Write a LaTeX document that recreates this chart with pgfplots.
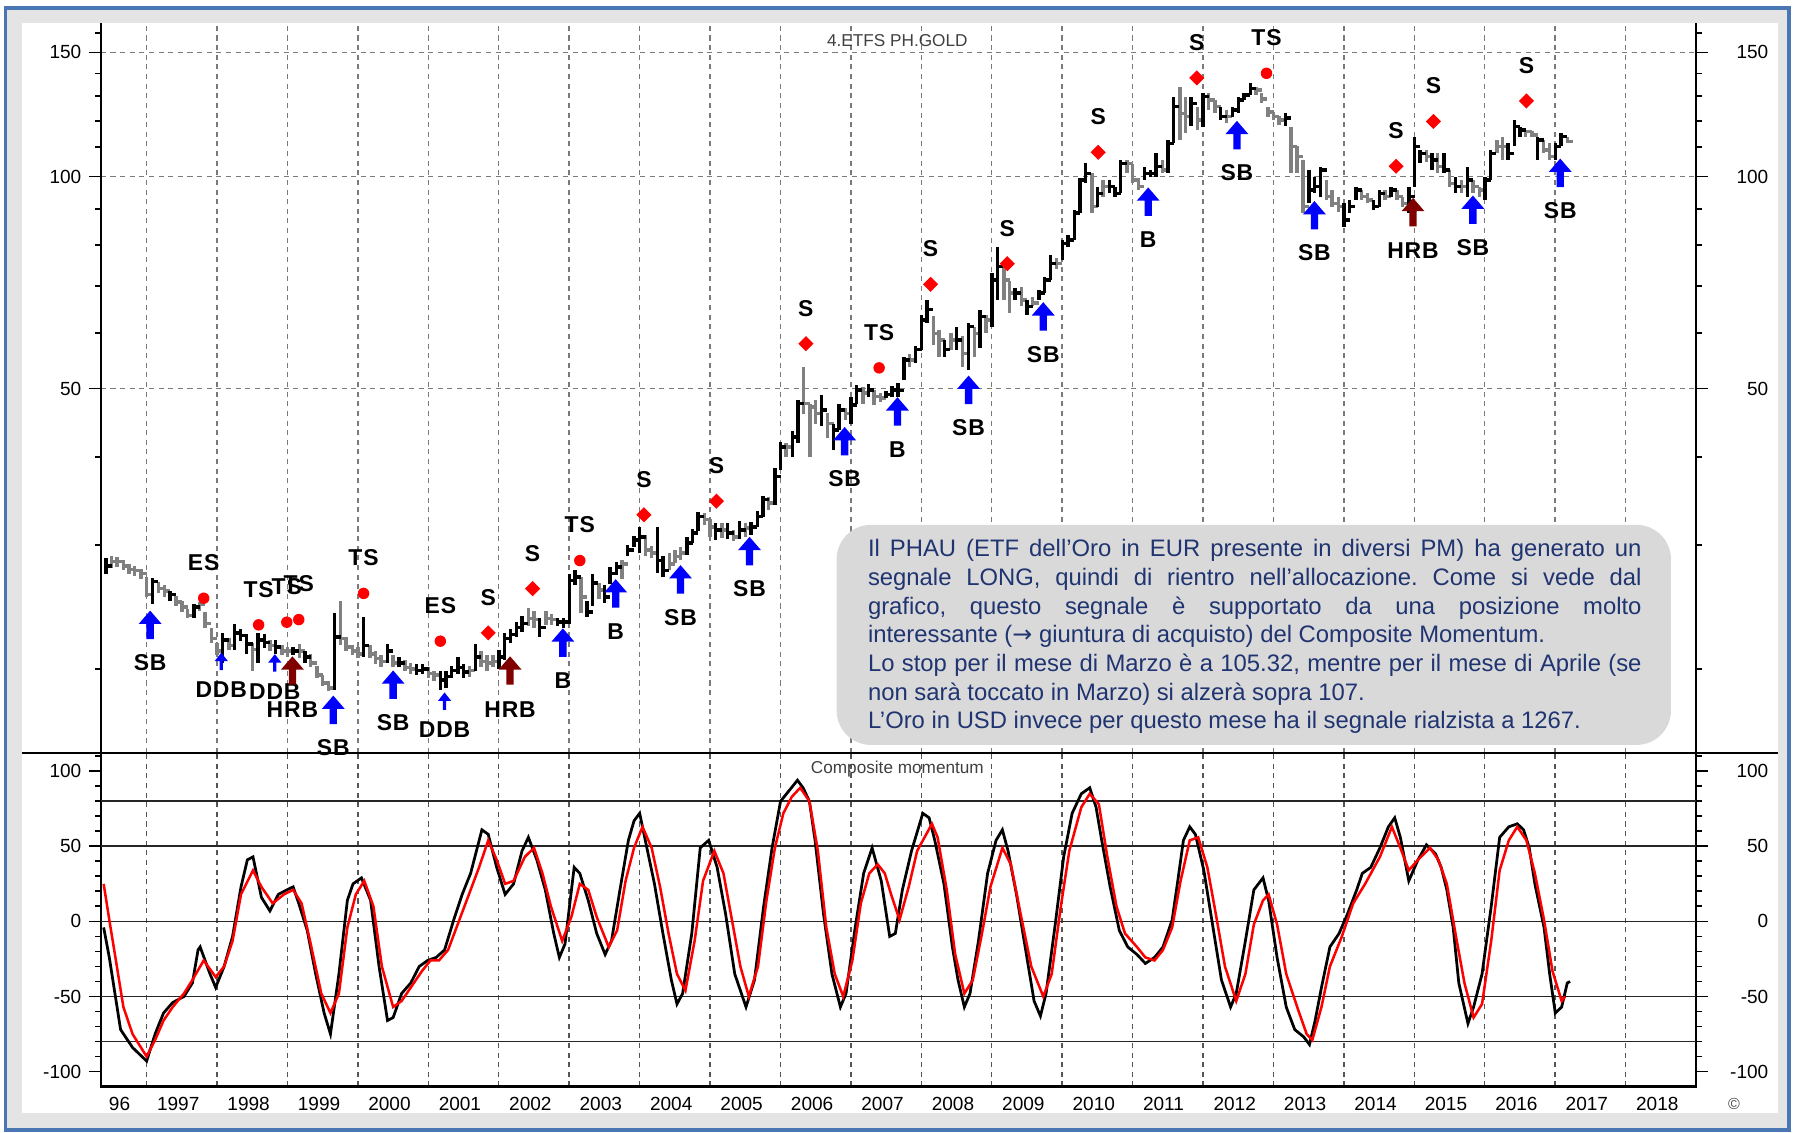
\documentclass[border=0pt]{standalone}
\usepackage{pgfplots}
\pgfplotsset{compat=1.18}
\usepackage{pgfplotstable}
\usepackage{fontspec}
\setmainfont{Liberation Sans}
\newfontfamily\symfont{DejaVu Sans}
\newfontfamily\sigfam[LetterSpace=4]{Liberation Sans}

\definecolor{navy}{HTML}{1F3470}
\definecolor{boxgray}{HTML}{D9D9D9}
\definecolor{framegray}{HTML}{E4E4E4}
\definecolor{frameblue}{HTML}{4A76B4}
\definecolor{bargray}{HTML}{808080}
\definecolor{gridgray}{HTML}{7A7A7A}
\definecolor{sigred}{HTML}{FF0000}
\definecolor{sigblue}{HTML}{0000FF}
\definecolor{hrbred}{HTML}{800000}

\pgfdeclareplotmark{bigup}{%
  \pgfpathmoveto{\pgfqpoint{0pt}{6.2pt}}%
  \pgfpathlineto{\pgfqpoint{5pt}{0.4pt}}%
  \pgfpathlineto{\pgfqpoint{1.6pt}{0.4pt}}%
  \pgfpathlineto{\pgfqpoint{1.6pt}{-6.2pt}}%
  \pgfpathlineto{\pgfqpoint{-1.6pt}{-6.2pt}}%
  \pgfpathlineto{\pgfqpoint{-1.6pt}{0.4pt}}%
  \pgfpathlineto{\pgfqpoint{-5pt}{0.4pt}}%
  \pgfpathclose\pgfusepathqfill}
\pgfdeclareplotmark{smallup}{%
  \pgfpathmoveto{\pgfqpoint{0pt}{3.8pt}}%
  \pgfpathlineto{\pgfqpoint{2.9pt}{0.1pt}}%
  \pgfpathlineto{\pgfqpoint{0.7pt}{0.1pt}}%
  \pgfpathlineto{\pgfqpoint{0.7pt}{-3.8pt}}%
  \pgfpathlineto{\pgfqpoint{-0.7pt}{-3.8pt}}%
  \pgfpathlineto{\pgfqpoint{-0.7pt}{0.1pt}}%
  \pgfpathlineto{\pgfqpoint{-2.9pt}{0.1pt}}%
  \pgfpathclose\pgfusepathqfill}
\pgfdeclareplotmark{rdiam}{%
  \pgfpathmoveto{\pgfqpoint{0pt}{3.3pt}}%
  \pgfpathlineto{\pgfqpoint{3.3pt}{0pt}}%
  \pgfpathlineto{\pgfqpoint{0pt}{-3.3pt}}%
  \pgfpathlineto{\pgfqpoint{-3.3pt}{0pt}}%
  \pgfpathclose\pgfusepathqfill}
\pgfdeclareplotmark{rdot}{%
  \pgfpathcircle{\pgfpointorigin}{2.5pt}\pgfusepathqfill}

\pgfplotsset{
  sig/.style={only marks, nodes near coords, point meta=explicit symbolic,
    every node near coord/.append style={font=\sigfam\bfseries\fontsize{10}{12}\selectfont,
      text=black, anchor=center, yshift=#1, inner sep=0pt}},
  ohlc/.style={mark=none, draw opacity=0,
    error bars/.cd, x dir=plus, x fixed=0.0833, y dir=both, y explicit, error mark=none,
    error bar style={draw=#1, draw opacity=1, line width=1.5pt, solid}},
}

\pgfplotstableread{
t c lo hi g
1996.42 28.0 27.3 28.7 1
1996.50 28.4 27.8 28.9 0
1996.58 28.4 27.9 28.8 0
1996.67 28.0 27.6 28.6 0
1996.75 27.7 27.3 28.2 0
1996.83 27.6 27.1 28.0 0
1996.92 27.3 26.8 27.7 0
1997.00 25.5 25.3 27.0 0
1997.08 26.6 24.7 26.9 1
1997.17 26.0 25.6 26.6 0
1997.25 25.8 25.3 26.3 0
1997.33 25.5 25.0 25.8 1
1997.42 24.9 24.6 25.4 0
1997.50 24.5 24.1 25.0 0
1997.58 23.8 23.6 24.3 0
1997.67 24.5 23.6 24.7 1
1997.75 24.7 24.2 24.9 0
1997.83 23.2 22.9 24.1 0
1997.92 22.1 21.8 22.9 0
1998.00 21.2 20.9 21.8 0
1998.08 22.0 20.4 22.5 1
1998.17 21.6 21.3 22.1 0
1998.25 22.5 21.3 23.2 1
1998.33 22.3 21.9 22.8 1
1998.42 21.7 21.0 22.4 1
1998.50 21.3 19.9 21.8 0
1998.58 22.0 20.4 22.5 1
1998.67 21.8 21.4 22.4 1
1998.75 21.6 21.2 22.0 0
1998.83 21.5 21.0 22.0 1
1998.92 21.2 20.9 21.6 0
1999.00 21.2 20.8 21.5 0
1999.08 21.2 20.9 21.5 1
1999.17 21.2 20.7 21.7 0
1999.25 20.8 20.4 21.2 1
1999.33 20.4 20.1 21.0 0
1999.42 19.6 19.4 20.2 0
1999.50 19.1 18.9 19.6 0
1999.58 18.8 18.6 19.2 0
1999.67 22.2 18.7 24.0 1
1999.75 22.1 21.6 25.0 0
1999.83 21.5 21.2 22.2 0
1999.92 21.2 20.9 21.6 0
2000.00 21.0 20.7 21.5 0
2000.08 21.6 20.8 23.7 1
2000.17 21.0 20.7 21.6 0
2000.25 20.7 20.3 21.2 0
2000.33 20.5 20.1 20.9 0
2000.42 21.2 20.4 21.7 1
2000.50 20.4 20.1 20.9 0
2000.58 20.4 20.1 20.8 1
2000.67 20.1 19.9 20.6 0
2000.75 20.0 19.7 20.4 0
2000.83 19.9 19.6 20.3 1
2000.92 20.0 19.7 20.3 1
2001.00 19.7 19.4 20.1 0
2001.08 19.6 19.2 19.9 0
2001.17 19.3 18.7 19.9 1
2001.25 19.5 18.8 19.9 1
2001.33 19.9 19.4 20.2 1
2001.42 20.1 19.7 20.8 1
2001.50 19.8 19.4 20.3 1
2001.58 19.9 19.5 20.2 0
2001.67 20.8 19.9 21.7 1
2001.75 20.5 20.1 21.2 0
2001.83 20.4 19.9 20.9 0
2001.92 20.5 20.1 20.9 0
2002.00 20.8 20.0 21.3 1
2002.08 22.1 20.6 22.5 1
2002.17 22.4 21.8 22.8 1
2002.25 22.9 22.2 23.3 1
2002.33 23.2 22.6 23.8 1
2002.42 23.6 23.0 24.4 0
2002.50 23.5 22.9 24.2 0
2002.58 22.9 22.2 23.6 1
2002.67 23.6 23.1 24.2 0
2002.75 23.5 23.1 23.9 0
2002.83 23.3 23.0 23.6 1
2002.92 23.3 22.9 23.6 1
2003.00 26.7 23.2 27.3 1
2003.08 27.0 26.3 27.6 1
2003.17 25.3 24.0 27.0 0
2003.25 24.1 23.7 25.0 1
2003.33 26.5 24.6 27.3 1
2003.42 25.9 25.1 26.5 0
2003.50 25.3 24.8 26.3 1
2003.58 27.3 26.4 27.9 1
2003.67 27.9 27.2 28.4 1
2003.75 28.2 26.8 28.6 0
2003.83 29.5 28.9 30.0 1
2003.92 30.5 29.8 30.9 1
2004.00 30.8 29.2 31.8 1
2004.08 29.5 28.9 31.0 0
2004.17 29.2 28.7 29.9 0
2004.25 28.5 27.4 31.8 1
2004.33 27.6 27.0 28.9 1
2004.42 28.2 27.6 29.2 0
2004.50 28.9 28.3 29.5 0
2004.58 29.2 28.6 29.8 0
2004.67 30.2 29.0 30.8 1
2004.75 31.2 30.2 31.6 1
2004.83 32.9 31.4 33.4 1
2004.92 32.6 32.0 33.3 0
2005.00 31.8 30.8 32.6 0
2005.08 31.5 30.5 32.2 1
2005.17 31.5 30.7 32.2 0
2005.25 31.2 30.6 32.2 1
2005.33 30.8 30.4 31.5 0
2005.42 31.5 30.6 32.4 1
2005.50 31.7 30.8 32.2 0
2005.58 31.8 31.0 32.3 1
2005.67 32.9 31.8 33.5 1
2005.75 34.8 32.9 35.2 1
2005.83 34.4 33.6 35.1 0
2005.92 37.5 34.2 38.6 1
2006.00 41.3 38.3 42.0 1
2006.08 41.3 40.0 41.8 0
2006.17 42.7 40.0 43.5 1
2006.25 47.6 41.8 48.2 1
2006.33 47.6 46.0 53.7 0
2006.42 47.1 40.0 47.6 0
2006.50 46.1 44.6 48.2 0
2006.58 46.6 44.2 49.0 1
2006.67 44.6 42.5 46.1 0
2006.75 43.7 40.9 44.6 1
2006.83 46.6 43.7 47.6 1
2006.92 46.1 45.1 47.0 0
2007.00 47.4 44.6 48.7 1
2007.08 49.8 47.6 50.6 1
2007.17 49.3 47.6 50.3 0
2007.25 49.8 48.7 50.8 1
2007.33 48.7 47.4 49.8 0
2007.42 48.5 47.9 49.3 0
2007.50 49.0 48.5 49.6 1
2007.58 49.8 48.7 50.5 1
2007.67 49.7 48.6 51.0 1
2007.75 54.9 51.5 55.5 1
2007.83 54.9 53.7 56.0 0
2007.92 56.8 54.3 57.5 1
2008.00 62.6 56.8 63.5 1
2008.08 64.7 62.0 66.8 1
2008.17 59.9 57.6 63.3 0
2008.25 58.6 55.5 60.5 0
2008.33 56.8 55.5 58.6 1
2008.42 58.6 56.8 60.0 0
2008.50 58.6 56.8 61.2 1
2008.58 56.1 53.7 59.3 0
2008.67 61.2 53.1 62.0 1
2008.75 59.9 55.5 61.2 0
2008.83 63.3 57.0 64.7 1
2008.92 62.6 59.9 63.5 0
2009.00 71.3 61.2 72.9 1
2009.08 74.5 66.8 79.5 1
2009.17 71.3 66.8 74.5 0
2009.25 68.3 64.0 71.0 0
2009.33 68.3 66.8 69.5 1
2009.42 66.8 65.4 69.8 0
2009.50 65.4 63.5 66.8 1
2009.58 66.1 65.4 67.5 0
2009.67 68.3 66.8 69.0 1
2009.75 71.3 68.3 72.0 1
2009.83 75.3 71.3 77.5 1
2009.92 75.3 74.0 76.5 0
2010.00 80.4 76.1 81.3 1
2010.08 81.3 79.5 82.5 1
2010.17 88.7 81.3 89.5 1
2010.25 98.9 88.7 99.5 1
2010.33 101.0 98.0 104.4 1
2010.42 90.6 88.7 101.0 0
2010.50 94.6 90.6 96.7 1
2010.58 96.7 93.6 98.9 0
2010.67 96.7 94.6 99.0 1
2010.75 94.6 93.6 96.7 1
2010.83 104.4 94.6 105.5 1
2010.92 104.4 101.0 105.5 0
2011.00 98.9 97.8 104.0 0
2011.08 96.7 95.7 99.5 0
2011.17 101.0 98.9 103.3 1
2011.25 101.0 99.9 102.1 1
2011.33 103.3 99.9 107.9 1
2011.42 102.1 101.0 105.5 0
2011.50 111.4 101.0 112.6 1
2011.58 125.6 111.4 129.8 1
2011.67 122.9 112.6 134.1 0
2011.75 121.6 115.1 129.8 0
2011.83 127.0 118.0 129.8 1
2011.92 120.3 116.4 125.6 0
2012.00 129.8 117.7 131.2 1
2012.08 128.4 124.2 131.2 0
2012.17 125.6 122.9 128.4 0
2012.25 121.6 120.3 125.6 1
2012.33 121.6 119.0 124.2 0
2012.42 124.2 121.6 125.6 1
2012.50 128.4 122.9 129.8 1
2012.58 130.5 128.4 131.2 1
2012.67 133.4 130.5 135.6 1
2012.75 132.6 130.5 134.1 0
2012.83 128.9 127.0 131.2 0
2012.92 123.5 121.6 125.6 0
2013.00 121.6 120.3 123.5 0
2013.08 120.3 118.5 122.0 0
2013.17 121.0 118.0 122.9 1
2013.25 110.3 101.0 117.7 0
2013.33 106.7 101.0 110.3 0
2013.42 90.6 88.7 105.5 0
2013.50 95.7 91.6 102.1 1
2013.58 96.7 94.6 99.9 1
2013.67 102.1 93.6 103.3 1
2013.75 93.6 92.6 98.9 0
2013.83 91.6 90.6 95.7 0
2013.92 90.6 89.0 93.6 0
2014.00 86.7 84.9 91.6 1
2014.08 90.6 88.7 92.6 1
2014.17 95.7 92.6 96.7 1
2014.25 93.6 92.6 95.7 0
2014.33 92.6 91.6 94.6 0
2014.42 90.6 89.5 92.6 1
2014.50 94.6 90.6 95.7 1
2014.58 93.6 92.6 95.7 0
2014.67 95.7 93.6 96.7 1
2014.75 93.6 92.6 95.7 0
2014.83 91.6 90.6 93.6 0
2014.92 93.6 88.7 96.7 1
2015.00 110.3 96.7 113.9 1
2015.08 107.9 104.4 109.1 1
2015.17 106.7 105.0 109.1 0
2015.25 105.5 102.1 107.9 1
2015.33 103.3 101.0 107.9 0
2015.42 102.1 101.0 107.9 1
2015.50 97.8 96.7 102.1 0
2015.58 96.7 94.6 99.9 1
2015.67 96.7 94.6 98.9 0
2015.75 98.9 93.6 103.3 1
2015.83 96.7 94.6 98.9 0
2015.92 95.7 93.6 96.7 0
2016.00 98.9 92.6 99.9 1
2016.08 107.9 98.9 109.1 1
2016.17 110.3 107.9 112.7 0
2016.25 110.3 105.5 113.9 0
2016.33 107.9 105.5 111.5 1
2016.42 117.7 110.3 120.3 1
2016.50 116.4 113.9 117.7 1
2016.58 115.8 113.9 116.4 0
2016.67 114.5 113.9 116.0 0
2016.75 112.7 105.5 113.9 1
2016.83 109.1 107.9 112.7 0
2016.92 106.7 105.5 111.5 0
2017.00 110.3 105.5 111.5 1
2017.08 113.9 110.3 115.2 1
2017.17 112.1 111.5 113.9 0
}\price

\pgfplotstableread{
t v
1996.39 -4
1996.47 -24
1996.55 -48
1996.63 -72
1996.80 -84
1997.00 -93
1997.12 -75
1997.24 -61
1997.37 -54
1997.53 -50
1997.65 -41
1997.73 -19
1997.76 -17
1997.90 -35
1997.98 -44
1998.10 -30
1998.22 -10
1998.34 23
1998.43 41
1998.51 43
1998.63 16
1998.75 7
1998.87 18
1998.99 21
1999.08 23
1999.16 12
1999.28 -6
1999.40 -35
1999.52 -61
1999.61 -75
1999.73 -35
1999.85 14
1999.93 25
2000.05 29
2000.18 14
2000.30 -30
2000.42 -66
2000.50 -64
2000.62 -48
2000.75 -41
2000.87 -30
2000.99 -26
2001.11 -24
2001.23 -19
2001.36 1
2001.48 18
2001.60 32
2001.76 61
2001.85 58
2001.97 36
2002.09 18
2002.21 25
2002.33 47
2002.42 56
2002.54 41
2002.66 21
2002.78 -8
2002.86 -24
2002.94 -15
2003.07 36
2003.15 32
2003.27 14
2003.39 -8
2003.51 -22
2003.60 -13
2003.72 21
2003.84 54
2003.92 67
2004.00 72
2004.08 54
2004.21 25
2004.33 -8
2004.45 -39
2004.53 -55
2004.61 -48
2004.74 -8
2004.86 49
2004.98 54
2005.10 36
2005.22 5
2005.35 -35
2005.51 -57
2005.63 -39
2005.76 10
2005.88 49
2006.00 80
2006.12 87
2006.24 94
2006.32 89
2006.41 80
2006.49 54
2006.61 5
2006.73 -35
2006.85 -57
2006.93 -48
2007.06 -4
2007.18 32
2007.30 49
2007.43 27
2007.55 -10
2007.63 -8
2007.73 21
2007.86 47
2008.02 72
2008.11 69
2008.19 54
2008.32 25
2008.44 -17
2008.52 -39
2008.61 -57
2008.69 -48
2008.81 -13
2008.94 32
2009.06 54
2009.15 61
2009.23 47
2009.35 18
2009.48 -19
2009.60 -53
2009.69 -63
2009.77 -48
2009.90 -2
2010.02 43
2010.14 72
2010.27 85
2010.39 89
2010.48 76
2010.56 54
2010.68 23
2010.81 -6
2010.93 -17
2011.06 -22
2011.18 -28
2011.31 -24
2011.43 -17
2011.56 1
2011.64 27
2011.72 54
2011.81 63
2011.89 58
2012.01 34
2012.14 -4
2012.26 -39
2012.39 -57
2012.47 -48
2012.60 -13
2012.72 21
2012.85 29
2012.93 14
2013.05 -24
2013.18 -57
2013.30 -72
2013.43 -77
2013.51 -82
2013.59 -66
2013.68 -44
2013.80 -17
2013.93 -8
2014.05 5
2014.18 21
2014.26 32
2014.38 36
2014.51 49
2014.63 63
2014.72 69
2014.80 56
2014.92 27
2015.05 41
2015.17 51
2015.30 45
2015.38 36
2015.46 21
2015.55 -4
2015.63 -41
2015.76 -68
2015.84 -57
2015.96 -35
2016.09 10
2016.21 56
2016.34 63
2016.46 65
2016.55 61
2016.63 49
2016.71 25
2016.84 -4
2016.92 -35
2017.00 -61
2017.09 -57
2017.17 -41
2017.21 -40
}\mblack

\pgfplotstableread{
t v
1996.39 25
1996.47 1
1996.55 -22
1996.67 -57
1996.80 -75
1997.00 -90
1997.12 -79
1997.24 -66
1997.37 -57
1997.53 -48
1997.65 -39
1997.81 -26
1997.98 -37
1998.10 -30
1998.22 -13
1998.34 18
1998.51 34
1998.63 23
1998.79 12
1998.95 18
1999.08 21
1999.20 12
1999.32 -13
1999.48 -48
1999.61 -61
1999.73 -48
1999.85 -4
1999.97 18
2000.09 27
2000.22 10
2000.34 -30
2000.50 -57
2000.62 -53
2000.75 -44
2000.91 -33
2001.03 -26
2001.15 -26
2001.28 -19
2001.44 1
2001.56 16
2001.72 36
2001.85 54
2001.97 41
2002.09 25
2002.21 27
2002.37 43
2002.50 49
2002.62 32
2002.74 10
2002.90 -13
2003.03 3
2003.15 25
2003.27 21
2003.39 3
2003.56 -17
2003.68 -6
2003.80 27
2003.92 49
2004.04 63
2004.17 49
2004.29 23
2004.41 -8
2004.53 -35
2004.65 -46
2004.78 -13
2004.90 27
2005.06 47
2005.19 32
2005.31 1
2005.43 -30
2005.55 -50
2005.68 -30
2005.80 14
2005.92 49
2006.04 72
2006.16 83
2006.28 89
2006.41 80
2006.53 47
2006.65 -4
2006.77 -35
2006.89 -50
2007.02 -26
2007.14 12
2007.26 32
2007.38 38
2007.48 32
2007.57 18
2007.69 1
2007.82 23
2007.94 47
2008.15 65
2008.23 56
2008.36 21
2008.48 -22
2008.61 -48
2008.73 -39
2008.86 -8
2008.98 23
2009.15 49
2009.27 38
2009.40 7
2009.56 -30
2009.73 -50
2009.85 -35
2009.98 10
2010.10 47
2010.27 76
2010.39 85
2010.52 78
2010.64 43
2010.77 10
2010.89 -8
2011.06 -17
2011.18 -24
2011.31 -26
2011.43 -19
2011.56 -4
2011.68 27
2011.81 54
2011.93 56
2012.06 36
2012.18 5
2012.31 -30
2012.47 -53
2012.60 -35
2012.72 -2
2012.85 14
2012.93 18
2013.05 -2
2013.18 -35
2013.35 -59
2013.47 -75
2013.55 -79
2013.68 -57
2013.80 -30
2013.97 -10
2014.13 12
2014.30 25
2014.51 43
2014.68 63
2014.80 49
2014.92 34
2015.05 41
2015.22 49
2015.34 41
2015.46 25
2015.59 -10
2015.71 -41
2015.84 -64
2015.96 -55
2016.09 -13
2016.21 34
2016.34 54
2016.46 63
2016.59 54
2016.71 32
2016.84 1
2016.96 -33
2017.09 -53
2017.14 -50
}\mred

\pgfplotstableread{
t p lab
1997.05 23.1 SB
1999.65 17.5 SB
2000.50 19.0 SB
2002.91 21.8 B
2003.66 25.6 B
2004.58 26.8 SB
2005.56 29.4 SB
2006.91 42.1 SB
2007.66 46.4 B
2008.67 49.8 SB
2009.73 63.3 SB
2011.22 92.1 B
2012.48 114.5 SB
2013.58 88.1 SB
2015.83 89.7 SB
2017.07 101.2 SB
}\sigbig

\pgfplotstableread{
t p lab
1998.06 20.5 DDB
1998.82 20.4 DDB
2001.23 18.0 DDB
}\sigsmall

\pgfplotstableread{
t p lab
1999.07 19.9 HRB
2002.16 19.9 HRB
2014.98 89.0 HRB
}\sighrb

\pgfplotstableread{
t p lab
1997.81 25.2 ES
1998.59 23.1 TS
1998.99 23.3 TS
1999.16 23.5 TS
2000.08 25.6 TS
2001.17 21.9 ES
2003.15 28.5 TS
2007.40 53.5 TS
2012.90 140.1 TS
}\sigdot

\pgfplotstableread{
t p lab
2001.85 22.5 S
2002.48 26.0 S
2004.06 33.1 S
2005.09 34.6 S
2006.36 57.9 S
2008.13 70.3 S
2009.22 75.2 S
2010.51 108.2 S
2011.91 138.0 S
2014.74 103.4 S
2015.27 119.7 S
2016.59 128.0 S
}\sigdiam

\begin{document}
\frenchspacing
\begin{tikzpicture}
\useasboundingbox (0pt,0pt) rectangle (784pt,494pt);
\fill[white] (0pt,0pt) rectangle (784pt,494pt);
\filldraw[fill=framegray, draw=frameblue, line width=1.5pt] (2.5pt,1pt) rectangle (780.5pt,490.5pt);
\fill[white] (9.5pt,8.5pt) rectangle (775.5pt,484pt);

% ---------- upper panel ----------
\begin{axis}[
  at={(44pt,165.5pt)}, anchor=south west,
  width=696pt, height=318.5pt, scale only axis,
  xmin=1996.35, xmax=2019.0,
  ymode=log, ymin=15.2, ymax=165.2,
  axis x line*=bottom,
  axis line style={black, line width=1pt},
  xtick={1997,...,2018}, xticklabels={},
  xtick style={draw=none},
  ytick={50,100,150}, yticklabels={50,100,150},
  minor ytick={20,30,40,60,70,80,90,110,120,130,140,160},
  tick align=outside, major tick length=5pt, minor tick length=2.5pt,
  ytick style={black, line width=0.8pt},
  ytick pos=both, yticklabel pos=left,
  xmajorgrids, ymajorgrids,
  major grid style={gridgray, dash pattern=on 2.2pt off 2pt, line width=0.6pt},
  tick label style={font=\fontsize{8.3}{10}\selectfont},
  /pgf/number format/assume math mode=true,
]
% all months in grey, then the black runs over them
\addplot[bargray, ohlc=bargray]
  table[x=t, y=c, y error plus expr=\thisrow{hi}-\thisrow{c}, y error minus expr=\thisrow{c}-\thisrow{lo}] {\price};
\addplot[black, restrict expr to domain={\thisrow{g}}{0.5:1.5}, unbounded coords=discard, ohlc=black]
  table[x=t, y=c, y error plus expr=\thisrow{hi}-\thisrow{c}, y error minus expr=\thisrow{c}-\thisrow{lo}] {\price};

\addplot[sig=-16.5pt, mark=bigup, sigblue] table[x=t, y=p, meta=lab] {\sigbig};
\addplot[sig=-12.5pt, mark=smallup, sigblue] table[x=t, y=p, meta=lab] {\sigsmall};
\addplot[sig=-17pt, mark=bigup, hrbred] table[x=t, y=p, meta=lab] {\sighrb};
\addplot[sig=15.5pt, mark=rdot, sigred] table[x=t, y=p, meta=lab] {\sigdot};
\addplot[sig=15.5pt, mark=rdiam, sigred] table[x=t, y=p, meta=lab] {\sigdiam};
\end{axis}

% right labels, upper
\begin{axis}[
  at={(44pt,165.5pt)}, anchor=south west,
  width=696pt, height=318.5pt, scale only axis,
  xmin=1996.35, xmax=2019.0,
  ymode=log, ymin=15.2, ymax=165.2,
  axis x line=none, axis y line*=right,
  y axis line style={draw=none},
  ytick={50,100,150}, yticklabels={50,100,150},
  major tick length=0pt, ytick style={draw=none},
  yticklabel style={anchor=east, xshift=35pt},
  tick label style={font=\fontsize{8.3}{10}\selectfont},
  /pgf/number format/assume math mode=true,
]
\addplot[draw=none] coordinates {(2000,50)};
\end{axis}

% ---------- lower panel ----------
\begin{axis}[
  at={(44pt,20pt)}, anchor=south west,
  width=696pt, height=145.5pt, scale only axis,
  xmin=1996.35, xmax=2019.0, ymin=-109.9, ymax=112.2,
  axis line style={black, line width=1pt},
  xtick={1997,...,2018}, xticklabels={},
  xtick style={draw=none},
  xmajorgrids,
  major grid style={gridgray!70!black, dash pattern=on 2.2pt off 2pt, line width=0.6pt},
  extra x ticks={1997,1998,1999,2000,2001,2002,2003,2004,2005,2006,2007,2008,2009,2010,2011,2012,2013,2014,2015,2016,2017,2018},
  extra x tick labels={1997,1998,1999,2000,2001,2002,2003,2004,2005,2006,2007,2008,2009,2010,2011,2012,2013,2014,2015,2016,2017,2018},
  extra x tick style={grid=none, major tick length=9.5pt,
     tick style={draw=black, line width=0.6pt, solid},
     xticklabel style={anchor=west, xshift=1pt, yshift=2pt}},
  ytick={-100,-50,0,50,100},
  minor ytick={-90,-80,-70,-60,-40,-30,-20,-10,10,20,30,40,60,70,80,90,110},
  tick align=outside, major tick length=5pt, minor tick length=2.5pt,
  ytick style={black, line width=0.8pt},
  ytick pos=both, yticklabel pos=left,
  tick label style={font=\fontsize{8.3}{10}\selectfont},
  /pgf/number format/assume math mode=true,
  clip=false,
]
\addplot[black!85, line width=0.8pt] coordinates {(1996.35,80) (2019,80)};
\addplot[black!85, line width=0.8pt] coordinates {(1996.35,50) (2019,50)};
\addplot[black!85, line width=0.8pt] coordinates {(1996.35,0) (2019,0)};
\addplot[black!85, line width=0.8pt] coordinates {(1996.35,-50) (2019,-50)};
\addplot[black!85, line width=0.8pt] coordinates {(1996.35,-80) (2019,-80)};
\addplot[black, line width=1.2pt] table[x=t, y=v] {\mblack};
\addplot[sigred, line width=1.1pt] table[x=t, y=v] {\mred};
\node[anchor=west, font=\fontsize{8.3}{10}\selectfont] at ([yshift=-7.5pt]rel axis cs:0,0) {96};
\end{axis}

% right labels, lower
\begin{axis}[
  at={(44pt,20pt)}, anchor=south west,
  width=696pt, height=145.5pt, scale only axis,
  xmin=1996.35, xmax=2019.0, ymin=-109.9, ymax=112.2,
  axis x line=none, axis y line*=right,
  y axis line style={draw=none},
  ytick={-100,-50,0,50,100},
  major tick length=0pt, ytick style={draw=none},
  yticklabel style={anchor=east, xshift=35pt},
  tick label style={font=\fontsize{8.3}{10}\selectfont},
  /pgf/number format/assume math mode=true,
]
\addplot[draw=none] coordinates {(2000,0)};
\end{axis}

% separator
\draw[black, line width=1pt] (9.5pt,165.5pt) -- (775.5pt,165.5pt);

% titles
\node[font=\fontsize{7.5}{9}\selectfont, text=black!75] at (391.5pt,476.5pt) {4.ETFS PH.GOLD};
\node[font=\fontsize{7.5}{9}\selectfont, text=black!75] at (391.5pt,158.5pt) {Composite momentum};
\node[font=\fontsize{7}{8}\selectfont, text=black!70] at (756.5pt,12.5pt) {©};

% text box
\fill[boxgray, rounded corners=15pt] (365pt,169pt) rectangle (729pt,265pt);
\node[anchor=base west, inner sep=0pt, text=navy, font=\fontsize{10.4}{12.5}\selectfont] at (378.5pt,251pt) {%
  \begin{minipage}[t]{337.5pt}
  \frenchspacing
  \baselineskip=12.5pt\lineskiplimit=-20pt
  \hbox to \linewidth{Il PHAU (ETF dell’Oro in EUR presente in diversi PM) ha generato un}
  \hbox to \linewidth{segnale LONG, quindi di rientro nell’allocazione. Come si vede dal}
  \hbox to \linewidth{grafico, questo segnale è supportato da una posizione molto}
  \hbox{interessante ({\symfont →} giuntura di acquisto) del Composite Momentum.}
  \hbox to \linewidth{Lo stop per il mese di Marzo è a 105.32, mentre per il mese di Aprile (se}
  \hbox{non sarà toccato in Marzo) si alzerà sopra 107.}
  \hbox{L’Oro in USD invece per questo mese ha il segnale rialzista a 1267.}
  \end{minipage}};
\end{tikzpicture}
\end{document}
